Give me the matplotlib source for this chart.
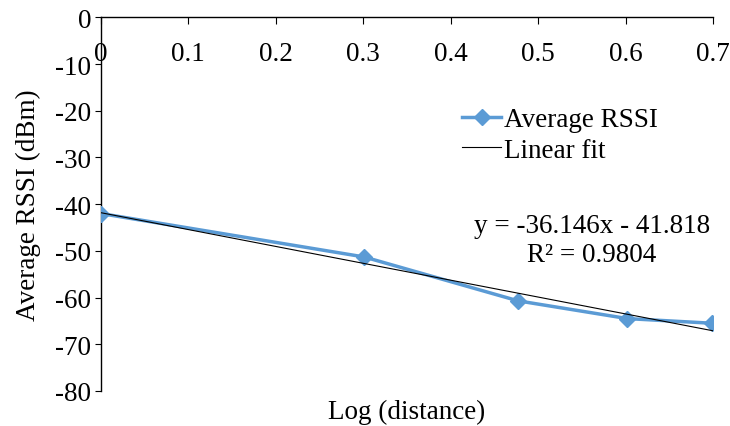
import matplotlib.pyplot as plt
import numpy as np

log_distance = [0, 0.301, 0.477, 0.602, 0.699]
avg_rssi = [-42.0, -51.3, -60.7, -64.5, -65.5]
fit_slope = -36.146
fit_intercept = -41.818
x_ticks = [0, 0.1, 0.2, 0.3, 0.4, 0.5, 0.6, 0.7]
y_ticks = [0, -10, -20, -30, -40, -50, -60, -70, -80]

plt.rcParams['font.family'] = ['Liberation Serif', 'DejaVu Serif']
plt.rcParams['axes.unicode_minus'] = False
fs = 19.5

fig = plt.figure(figsize=(7.3, 4.27), dpi=100)
ax = fig.add_axes([0.138, 0.082, 0.839, 0.875])

ax.plot(log_distance, avg_rssi, color="#5B9BD5", linewidth=2.5, marker="D",
        markersize=8, label="Average RSSI", zorder=3)
fx = np.array([0, 0.7])
ax.plot(fx, fit_slope * fx + fit_intercept, color="black", linewidth=0.8,
        label="Linear fit", zorder=4)

ax.set_xlim(0, 0.7)
ax.set_ylim(-80, 0)
ax.set_xticks(x_ticks)
ax.set_xticklabels(["0" if t == 0 else f"{t:g}" for t in x_ticks])
ax.set_yticks(y_ticks)

# x axis crosses at y = 0, like Excel
ax.spines['bottom'].set_position(('data', 0))
ax.spines['top'].set_visible(False)
ax.spines['right'].set_visible(False)
for s in ['bottom', 'left']:
    ax.spines[s].set_linewidth(1.0)
ax.tick_params(axis='x', direction='out', length=5, pad=12, labelsize=fs)
ax.tick_params(axis='y', direction='out', length=4, pad=3, labelsize=fs)

ax.set_xlabel("Log (distance)", fontsize=fs)
ax.xaxis.set_label_coords(0.5, -0.02)
ax.set_ylabel("Average RSSI (dBm)", fontsize=fs)
ax.yaxis.set_label_coords(-0.098, 0.5)

ax.legend(loc="upper left", bbox_to_anchor=(0.59, 0.759), frameon=False,
          fontsize=fs, handlelength=1.45, handletextpad=0.08, labelspacing=0.2,
          borderpad=0, borderaxespad=0)

ax.text(0.802, 0.444, "y = -36.146x - 41.818", transform=ax.transAxes,
        ha="center", va="center", fontsize=fs)
ax.text(0.802, 0.364, "R² = 0.9804", transform=ax.transAxes,
        ha="center", va="center", fontsize=fs)

plt.savefig("out.png", dpi=100)
